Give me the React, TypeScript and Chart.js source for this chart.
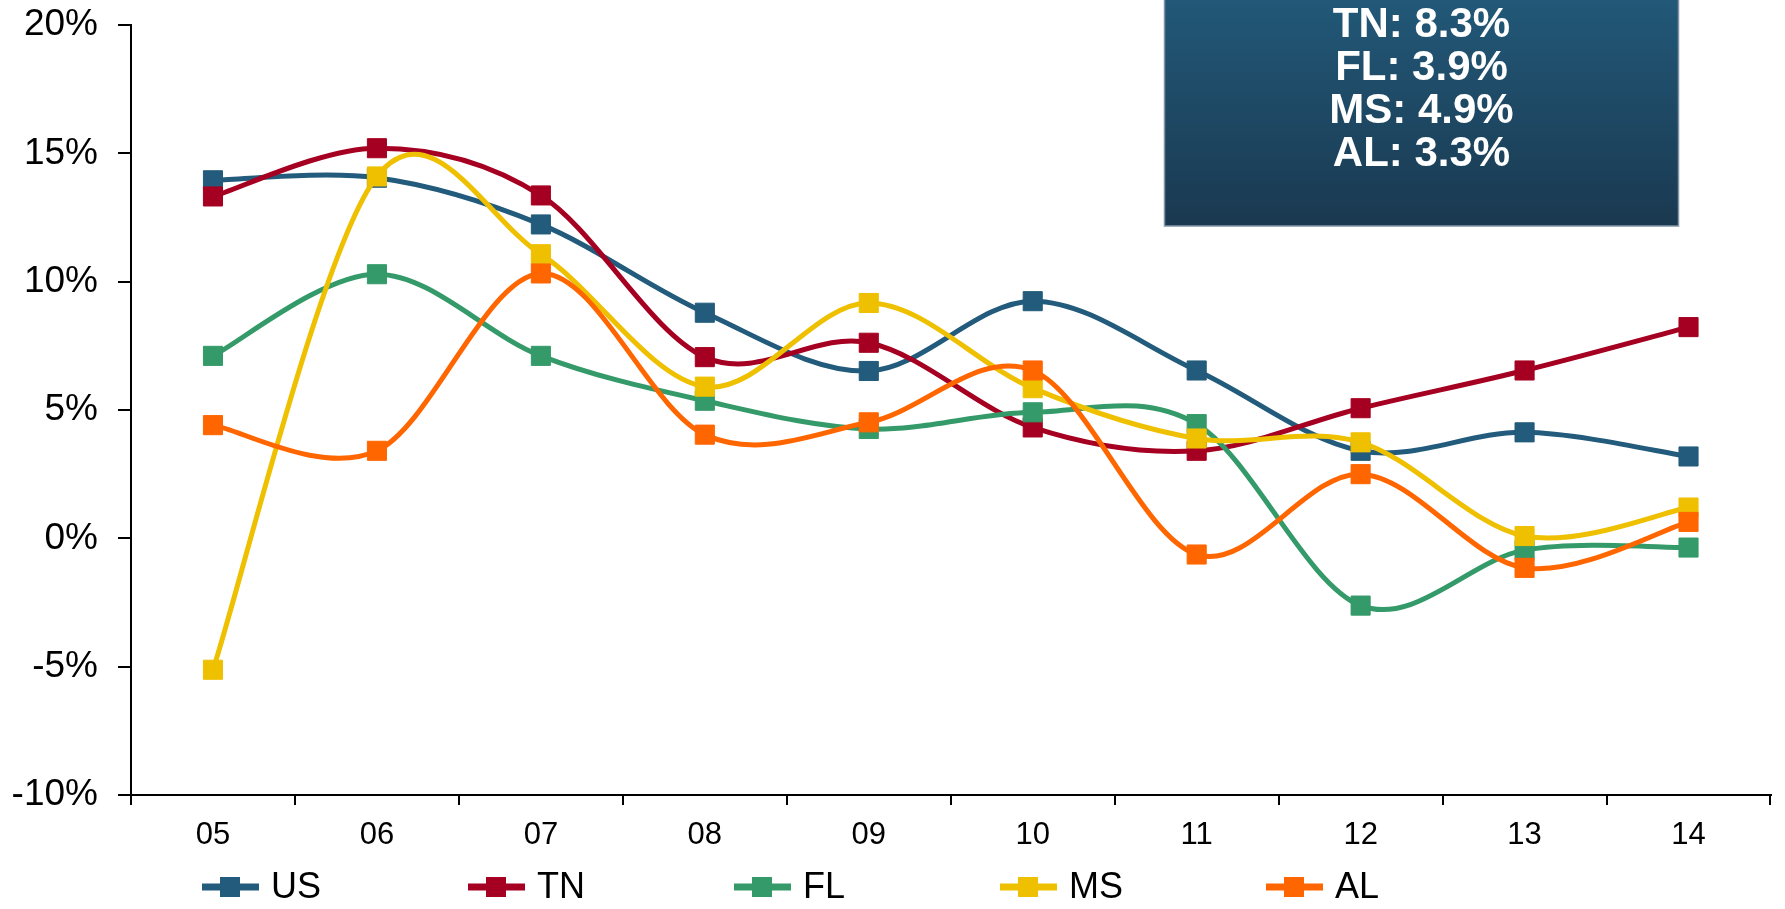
import React, { useEffect, useRef } from "react";
import { Chart, registerables } from "chart.js";

Chart.register(...registerables);

const categories = ["05", "06", "07", "08", "09", "10", "11", "12", "13", "14"];
const usValues = [13.95, 14.05, 12.23, 8.79, 6.52, 9.24, 6.54, 3.41, 4.13, 3.19];
const tnValues = [13.32, 15.2, 13.36, 7.06, 7.62, 4.32, 3.41, 5.07, 6.54, 8.23];
const flValues = [7.11, 10.29, 7.11, 5.36, 4.26, 4.91, 4.45, -2.62, -0.46, -0.36];
const msValues = [-5.12, 14.1, 11.07, 5.91, 9.17, 5.85, 3.89, 3.74, 0.09, 1.2];
const alValues = [4.41, 3.41, 10.32, 4.04, 4.52, 6.54, -0.63, 2.5, -1.15, 0.64];
const seriesNames = ["US", "TN", "FL", "MS", "AL"];
const seriesColors = ["#225B7B", "#A50021", "#359A69", "#EEC000", "#FF6600"];
const yMin = -10;
const yMax = 20;
const yStep = 5;
const boxLines = ["TN: 8.3%", "FL: 3.9%", "MS: 4.9%", "AL: 3.3%"];

const FONT = "'Liberation Sans', Arial, Helvetica, sans-serif";

// Excel-like smoothing (Catmull-Rom) applied to the line element's control points
const smoothPlugin = {
  id: "excelSmooth",
  beforeDatasetDraw(chart: any, args: any) {
    const meta = args.meta;
    const line: any = meta.dataset;
    const pts: any[] = meta.data;
    if (!line || !pts || pts.length < 2) return;
    if (typeof line.updateControlPoints === "function") {
      line.updateControlPoints(chart.chartArea, meta.indexAxis);
    }
    const n = pts.length;
    for (let i = 0; i < n; i++) {
      const p = pts[i];
      const prev = pts[Math.max(0, i - 1)];
      const next = pts[Math.min(n - 1, i + 1)];
      const dx = (next.x - prev.x) / 6;
      const dy = (next.y - prev.y) / 6;
      p.cp1x = p.x - dx;
      p.cp1y = p.y - dy;
      p.cp2x = p.x + dx;
      p.cp2y = p.y + dy;
    }
    line._pointsUpdated = true;
    line._path = undefined;
  },
};

const overlayPlugin = {
  id: "overlay",
  afterDraw(chart: any) {
    const ctx: CanvasRenderingContext2D = chart.ctx;
    ctx.save();
    // Legend
    const legendX0 = 202;
    const legendStep = 266;
    const legendY = 887;
    chart.data.datasets.forEach((ds: any, i: number) => {
      const x = legendX0 + i * legendStep;
      ctx.strokeStyle = ds.borderColor;
      ctx.lineWidth = 7;
      ctx.beginPath();
      ctx.moveTo(x, legendY);
      ctx.lineTo(x + 57, legendY);
      ctx.stroke();
      ctx.fillStyle = ds.borderColor;
      ctx.fillRect(x + 18, legendY - 10, 20, 20);
      ctx.fillStyle = "#000";
      ctx.font = `36px ${FONT}`;
      ctx.textAlign = "left";
      ctx.textBaseline = "middle";
      ctx.fillText(ds.label, x + 69, legendY + 1);
    });
    // Box
    const bx = 1164, by = -2, bw = 515, bh = 228;
    const g = ctx.createLinearGradient(0, 0, 0, by + bh);
    g.addColorStop(0, "rgb(34,88,120)");
    g.addColorStop(1, "rgb(26,57,80)");
    ctx.fillStyle = g;
    ctx.fillRect(bx, by, bw, bh);
    ctx.strokeStyle = "rgba(130,148,165,1)";
    ctx.lineWidth = 1.5;
    ctx.strokeRect(bx + 0.5, by, bw - 1, bh);
    ctx.fillStyle = "#fff";
    ctx.font = `bold 42px ${FONT}`;
    ctx.textAlign = "center";
    ctx.textBaseline = "middle";
    boxLines.forEach((t, i) => {
      ctx.fillText(t, bx + bw / 2, 25 + i * 43.3);
    });
    ctx.restore();
  },
};

export default function App() {
  const ref = useRef<HTMLCanvasElement | null>(null);
  useEffect(() => {
    document.body.style.margin = "0";
    const canvas = ref.current;
    if (!canvas) return;
    const allValues = [usValues, tnValues, flValues, msValues, alValues];
    const datasets = seriesNames.map((name, i) => ({
      label: name,
      data: allValues[i],
      borderColor: seriesColors[i],
      backgroundColor: seriesColors[i],
      pointBackgroundColor: seriesColors[i],
      pointBorderColor: seriesColors[i],
      pointBorderWidth: 1,
      pointStyle: "rect" as const,
      pointRadius: 13.5,
      pointHoverRadius: 13.5,
      borderWidth: 5,
      tension: 0.4,
      fill: false,
      order: seriesNames.length - 1 - i,
    }));
    const chart = new Chart(canvas, {
      type: "line",
      data: { labels: categories, datasets },
      plugins: [smoothPlugin, overlayPlugin],
      options: {
        animation: false,
        responsive: false,
        events: [],
        layout: { padding: { top: 25, right: 9, left: 0, bottom: 0 } },
        plugins: {
          legend: { display: false },
          tooltip: { enabled: false },
        },
        scales: {
          x: {
            type: "category",
            offset: true,
            border: { display: true, color: "#000", width: 2 },
            grid: {
              display: true,
              drawOnChartArea: false,
              drawTicks: true,
              tickLength: 10,
              color: "#000",
              lineWidth: 2,
              offset: true,
            },
            ticks: {
              color: "#000",
              font: { family: FONT, size: 31 },
              padding: 12,
              maxRotation: 0,
              autoSkip: false,
            },
            afterFit: (s: any) => {
              s.height = 114;
              s.paddingLeft = 0;
              s.paddingRight = 0;
            },
          },
          y: {
            type: "linear",
            min: yMin,
            max: yMax,
            border: { display: true, color: "#000", width: 2 },
            grid: {
              display: true,
              drawOnChartArea: false,
              drawTicks: true,
              tickLength: 13,
              color: "#000",
              lineWidth: 2,
            },
            ticks: {
              stepSize: yStep,
              color: "#000",
              font: { family: FONT, size: 37 },
              padding: 20,
              callback: (v: any) => `${v}%`,
            },
            afterFit: (s: any) => {
              s.width = 131;
              s.paddingTop = 0;
              s.paddingBottom = 0;
            },
          },
        },
      },
    });
    return () => chart.destroy();
  }, []);
  return (
    <canvas
      ref={ref}
      width={1785}
      height={909}
      style={{ display: "block", width: 1785, height: 909 }}
    />
  );
}
